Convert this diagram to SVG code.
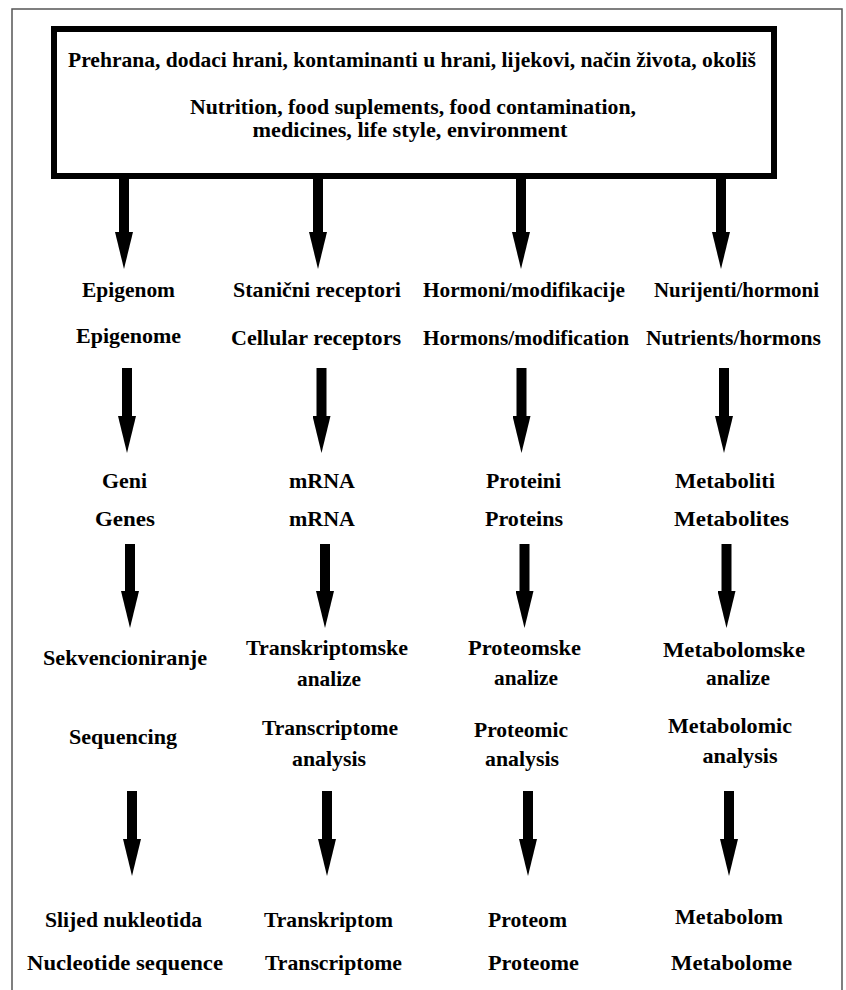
<svg xmlns="http://www.w3.org/2000/svg" width="846" height="990" viewBox="0 0 846 990">
  <style>
    text { font-family: "Liberation Serif", Tinos, "Times New Roman", "DejaVu Serif", serif; font-weight: bold; font-size: 22px; fill: #000; text-anchor: middle; }
    .shaft { stroke: #000; stroke-width: 10; fill: none; marker-end: url(#head); }
  </style>
  <defs>
    <marker id="head" markerUnits="userSpaceOnUse" markerWidth="38" markerHeight="18" refX="0" refY="9" orient="auto" viewBox="0 0 38 18">
      <path d="M0,0 L37,9 L0,18 z" fill="#000"/>
    </marker>
  </defs>
  <rect x="0" y="0" width="846" height="990" fill="#fff"/>
  <rect x="12" y="9" width="830" height="995" fill="none" stroke="#555" stroke-width="1.5"/>

  <g id="source">
    <rect x="54" y="29" width="720" height="147" fill="#fff" stroke="#000" stroke-width="6"/>
    <text x="412" y="67" font-size="21" textLength="688" lengthAdjust="spacingAndGlyphs">Prehrana, dodaci hrani, kontaminanti u hrani, lijekovi, način života, okoliš</text>
    <text x="413" y="114" font-size="20" textLength="446" lengthAdjust="spacingAndGlyphs">Nutrition, food suplements, food contamination,</text>
    <text x="410" y="137" font-size="20" textLength="315" lengthAdjust="spacingAndGlyphs">medicines, life style, environment</text>
  </g>

  <g id="connectors">
    <line class="shaft" x1="124" y1="179" x2="124" y2="232"/>
    <line class="shaft" x1="318" y1="179" x2="318" y2="232"/>
    <line class="shaft" x1="521" y1="179" x2="521" y2="232"/>
    <line class="shaft" x1="721" y1="179" x2="721" y2="232"/>

    <line class="shaft" x1="127" y1="368" x2="127" y2="416"/>
    <line class="shaft" x1="321.5" y1="368" x2="321.5" y2="416"/>
    <line class="shaft" x1="521.5" y1="368" x2="521.5" y2="416"/>
    <line class="shaft" x1="724" y1="368" x2="724" y2="416"/>

    <line class="shaft" x1="130" y1="544" x2="130" y2="591"/>
    <line class="shaft" x1="325" y1="544" x2="325" y2="591"/>
    <line class="shaft" x1="524.5" y1="544" x2="524.5" y2="591"/>
    <line class="shaft" x1="726.5" y1="544" x2="726.5" y2="591"/>

    <line class="shaft" x1="132" y1="791" x2="132" y2="839"/>
    <line class="shaft" x1="327" y1="791" x2="327" y2="839"/>
    <line class="shaft" x1="528" y1="791" x2="528" y2="839"/>
    <line class="shaft" x1="729" y1="791" x2="729" y2="839"/>
  </g>

  <g id="epigenom">
    <text x="128.5" y="297" textLength="93" lengthAdjust="spacingAndGlyphs">Epigenom</text>
    <text x="128.5" y="343" textLength="105" lengthAdjust="spacingAndGlyphs">Epigenome</text>
  </g>
  <g id="receptori">
    <text x="317" y="297" textLength="168" lengthAdjust="spacingAndGlyphs">Stanični receptori</text>
    <text x="316" y="345" textLength="170" lengthAdjust="spacingAndGlyphs">Cellular receptors</text>
  </g>
  <g id="hormoni">
    <text x="524" y="297" textLength="202" lengthAdjust="spacingAndGlyphs">Hormoni/modifikacije</text>
    <text x="526" y="345" textLength="206" lengthAdjust="spacingAndGlyphs">Hormons/modification</text>
  </g>
  <g id="nutrijenti">
    <text x="736.5" y="297" textLength="165" lengthAdjust="spacingAndGlyphs">Nurijenti/hormoni</text>
    <text x="733.5" y="345" textLength="175" lengthAdjust="spacingAndGlyphs">Nutrients/hormons</text>
  </g>

  <g id="geni">
    <text x="124.5" y="488" textLength="45" lengthAdjust="spacingAndGlyphs">Geni</text>
    <text x="125" y="526" textLength="60" lengthAdjust="spacingAndGlyphs">Genes</text>
  </g>
  <g id="mrna">
    <text x="322" y="488" textLength="66" lengthAdjust="spacingAndGlyphs">mRNA</text>
    <text x="322" y="526" textLength="66" lengthAdjust="spacingAndGlyphs">mRNA</text>
  </g>
  <g id="proteini">
    <text x="523.5" y="488" textLength="75" lengthAdjust="spacingAndGlyphs">Proteini</text>
    <text x="524" y="526" textLength="78" lengthAdjust="spacingAndGlyphs">Proteins</text>
  </g>
  <g id="metaboliti">
    <text x="725" y="488" textLength="100" lengthAdjust="spacingAndGlyphs">Metaboliti</text>
    <text x="731.5" y="526" textLength="115" lengthAdjust="spacingAndGlyphs">Metabolites</text>
  </g>

  <g id="sekvencioniranje">
    <text x="125" y="665" textLength="164" lengthAdjust="spacingAndGlyphs">Sekvencioniranje</text>
    <text x="123" y="744" textLength="108" lengthAdjust="spacingAndGlyphs">Sequencing</text>
  </g>
  <g id="transkriptomske">
    <text x="327" y="655" textLength="162" lengthAdjust="spacingAndGlyphs">Transkriptomske</text>
    <text x="329" y="686" textLength="64" lengthAdjust="spacingAndGlyphs">analize</text>
    <text x="330" y="735" textLength="136" lengthAdjust="spacingAndGlyphs">Transcriptome</text>
    <text x="329" y="766" textLength="74" lengthAdjust="spacingAndGlyphs">analysis</text>
  </g>
  <g id="proteomske">
    <text x="524.5" y="655" textLength="113" lengthAdjust="spacingAndGlyphs">Proteomske</text>
    <text x="526" y="685" textLength="64" lengthAdjust="spacingAndGlyphs">analize</text>
    <text x="521" y="737" textLength="94" lengthAdjust="spacingAndGlyphs">Proteomic</text>
    <text x="522" y="766" textLength="74" lengthAdjust="spacingAndGlyphs">analysis</text>
  </g>
  <g id="metabolomske">
    <text x="734" y="657" textLength="142" lengthAdjust="spacingAndGlyphs">Metabolomske</text>
    <text x="738" y="685" textLength="64" lengthAdjust="spacingAndGlyphs">analize</text>
    <text x="730" y="733" textLength="124" lengthAdjust="spacingAndGlyphs">Metabolomic</text>
    <text x="740" y="763" textLength="75" lengthAdjust="spacingAndGlyphs">analysis</text>
  </g>

  <g id="slijed">
    <text x="123.5" y="927" textLength="157" lengthAdjust="spacingAndGlyphs">Slijed nukleotida</text>
    <text x="125" y="970" textLength="196" lengthAdjust="spacingAndGlyphs">Nucleotide sequence</text>
  </g>
  <g id="transkriptom">
    <text x="328.5" y="927" textLength="129" lengthAdjust="spacingAndGlyphs">Transkriptom</text>
    <text x="333.5" y="970" textLength="137" lengthAdjust="spacingAndGlyphs">Transcriptome</text>
  </g>
  <g id="proteom">
    <text x="527.5" y="927" textLength="79" lengthAdjust="spacingAndGlyphs">Proteom</text>
    <text x="533.5" y="970" textLength="91" lengthAdjust="spacingAndGlyphs">Proteome</text>
  </g>
  <g id="metabolom">
    <text x="729" y="924" textLength="108" lengthAdjust="spacingAndGlyphs">Metabolom</text>
    <text x="731.5" y="970" textLength="121" lengthAdjust="spacingAndGlyphs">Metabolome</text>
  </g>
</svg>
